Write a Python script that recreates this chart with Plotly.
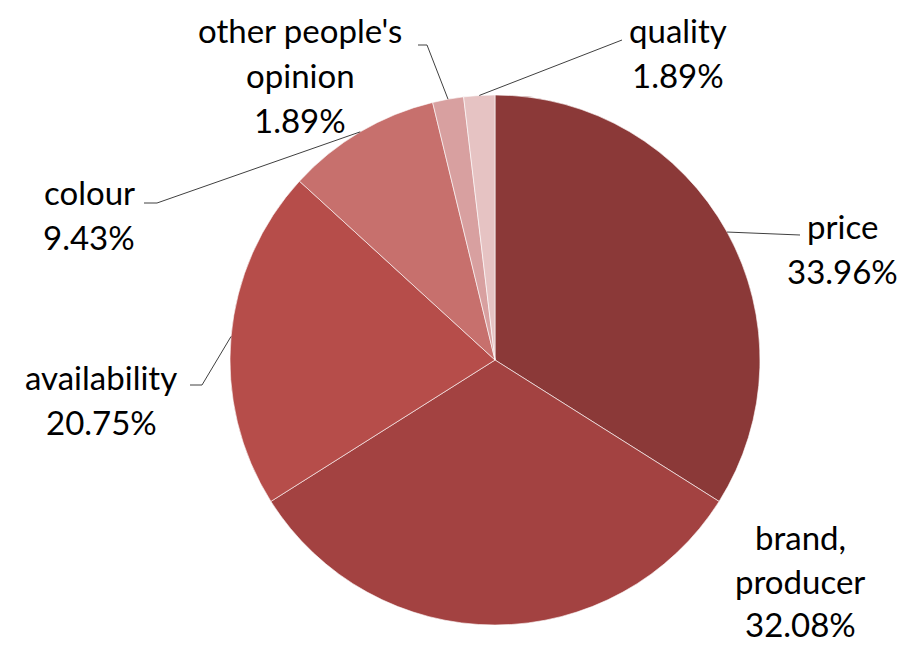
import math
import plotly.graph_objects as go

labels = ["price", "brand, producer", "availability", "colour", "other people's opinion", "quality"]
values = [33.96, 32.08, 20.75, 9.43, 1.89, 1.89]
label_lines = [["price", "33.96%"], ["brand,", "producer", "32.08%"], ["availability", "20.75%"],
               ["colour", "9.43%"], ["other people's", "opinion", "1.89%"], ["quality", "1.89%"]]
colors = ["#8B3938", "#A34241", "#B64D4A", "#C7706D", "#D8A0A0", "#E6C3C3"]

W, H = 907, 649
CX, CY, R = 495, 360, 265
LINE_H = 45

def px(x):
    return x / W

def py(y):
    return 1 - y / H

fig = go.Figure(go.Pie(
    labels=labels, values=values, sort=False, direction="clockwise", rotation=0,
    marker=dict(colors=colors, line=dict(color="rgba(255,255,255,0.6)", width=1)),
    textinfo="none", hoverinfo="label+percent", showlegend=False,
    domain=dict(x=[px(CX - R), px(CX + R)], y=[py(CY + R), py(CY - R)]),
))

# first-line centers (pixel) for each label block
label_pos = [(842, 226), (800, 537), (101, 377), (89, 192), (300, 30), (678, 30)]
line_h = [45, 43.5, 45, 45, 45, 45]
leaders = [
    [(800, 235)],              # price
    None,                      # brand
    [(202, 385), (190, 385)],  # availability
    [(157, 203), (144, 203)],  # colour
    [(427, 45), (418, 45)],    # other
    [(622, 40)],               # quality
]

total = sum(values)
cum = 0
shapes = []
annotations = []
for i, v in enumerate(values):
    mid = (cum + v / 2) / total * 2 * math.pi
    cum += v
    ax = CX + R * math.sin(mid)
    ay = CY - R * math.cos(mid)
    if leaders[i]:
        pts = [(ax, ay)] + leaders[i]
        path = "M " + " L ".join(f"{px(x)},{py(y)}" for x, y in pts)
        shapes.append(dict(type="path", path=path, xref="paper", yref="paper",
                           line=dict(color="#404040", width=1)))
    lx, ly = label_pos[i]
    for j, t in enumerate(label_lines[i]):
        annotations.append(dict(x=px(lx), y=py(ly + j * line_h[i]), xref="paper", yref="paper",
                                text=t, showarrow=False,
                                font=dict(family="Lato, 'Open Sans', sans-serif", size=33, color="#000000"),
                                xanchor="center", yanchor="middle", align="center"))

fig.update_layout(width=W, height=H, margin=dict(l=0, r=0, t=0, b=0),
                  paper_bgcolor="white", plot_bgcolor="white",
                  shapes=shapes, annotations=annotations)

fig.write_html("out.html", config={"displayModeBar": False},
               post_script="document.body.style.margin='0px';")
